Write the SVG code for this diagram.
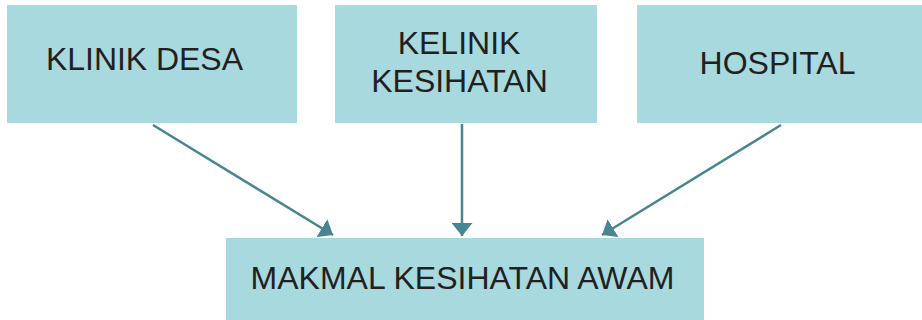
<svg xmlns="http://www.w3.org/2000/svg" width="922" height="320" viewBox="0 0 922 320">
  <style>
    .box { fill: #A8D9DF; }
    .lbl { font-family: "Liberation Sans", Arial, sans-serif; font-size: 32px; fill: #231F20; }
    .conn { stroke: #468591; stroke-width: 2.5; fill: none; }
  </style>
  <defs>
    <marker id="arrow" markerUnits="userSpaceOnUse" viewBox="0 0 13 21" markerWidth="13" markerHeight="21" refX="13" refY="10.5" orient="auto">
      <path d="M0,0 L13,10.5 L0,21 z" fill="#468591"/>
    </marker>
  </defs>
  <rect width="922" height="320" fill="#FFFFFF"/>

  <g id="klinik-desa">
    <rect class="box" x="7" y="5" width="290" height="118"/>
    <text class="lbl" x="46" y="70" textLength="197">KLINIK DESA</text>
  </g>

  <g id="kelinik-kesihatan">
    <rect class="box" x="335" y="5" width="262" height="118"/>
    <text class="lbl" x="459" y="54" text-anchor="middle">KELINIK</text>
    <text class="lbl" x="459.5" y="91.5" text-anchor="middle">KESIHATAN</text>
  </g>

  <g id="hospital">
    <rect class="box" x="637" y="5" width="285" height="118"/>
    <text class="lbl" x="777.5" y="74" text-anchor="middle">HOSPITAL</text>
  </g>

  <g id="makmal-kesihatan-awam">
    <rect class="box" x="226" y="238" width="478" height="82"/>
    <text class="lbl" x="462.5" y="289" text-anchor="middle">MAKMAL KESIHATAN AWAM</text>
  </g>

  <g id="connectors">
    <line class="conn" x1="153" y1="125" x2="333" y2="235" marker-end="url(#arrow)"/>
    <line class="conn" x1="462" y1="124" x2="462" y2="236" marker-end="url(#arrow)"/>
    <line class="conn" x1="781" y1="125" x2="602" y2="235" marker-end="url(#arrow)"/>
  </g>
</svg>
